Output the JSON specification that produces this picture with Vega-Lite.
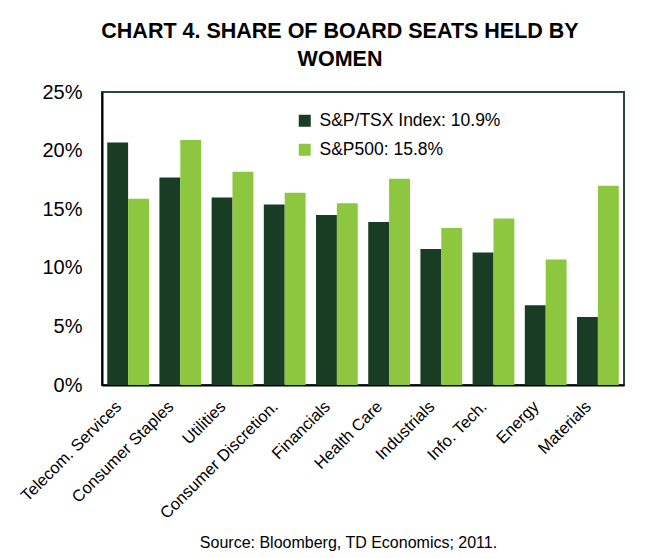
{
  "$schema": "https://vega.github.io/schema/vega-lite/v6.json",
  "width": 522,
  "height": 293,
  "autosize": "none",
  "padding": {"left": 102, "top": 92, "right": 41, "bottom": 173},
  "background": "white",
  "title": {
    "text": ["CHART 4. SHARE OF BOARD SEATS HELD BY", "WOMEN"],
    "font": "Liberation Sans",
    "fontSize": 21.5,
    "fontWeight": "bold",
    "color": "#000000",
    "lineHeight": 28,
    "anchor": "middle",
    "dx": -23,
    "offset": 12
  },
  "config": {
    "view": {"stroke": "#2b4a33", "strokeWidth": 2},
    "font": "Liberation Sans"
  },
  "data": {
    "values": [
      {"sector": "Telecom. Services", "series": "S&P/TSX Index: 10.9%", "value": 20.7},
      {"sector": "Telecom. Services", "series": "S&P500: 15.8%", "value": 15.9},
      {"sector": "Consumer Staples", "series": "S&P/TSX Index: 10.9%", "value": 17.7},
      {"sector": "Consumer Staples", "series": "S&P500: 15.8%", "value": 20.9},
      {"sector": "Utilities", "series": "S&P/TSX Index: 10.9%", "value": 16.0},
      {"sector": "Utilities", "series": "S&P500: 15.8%", "value": 18.2},
      {"sector": "Consumer Discretion.", "series": "S&P/TSX Index: 10.9%", "value": 15.4},
      {"sector": "Consumer Discretion.", "series": "S&P500: 15.8%", "value": 16.4},
      {"sector": "Financials", "series": "S&P/TSX Index: 10.9%", "value": 14.5},
      {"sector": "Financials", "series": "S&P500: 15.8%", "value": 15.5},
      {"sector": "Health Care", "series": "S&P/TSX Index: 10.9%", "value": 13.9},
      {"sector": "Health Care", "series": "S&P500: 15.8%", "value": 17.6},
      {"sector": "Industrials", "series": "S&P/TSX Index: 10.9%", "value": 11.6},
      {"sector": "Industrials", "series": "S&P500: 15.8%", "value": 13.4},
      {"sector": "Info. Tech.", "series": "S&P/TSX Index: 10.9%", "value": 11.3},
      {"sector": "Info. Tech.", "series": "S&P500: 15.8%", "value": 14.2},
      {"sector": "Energy", "series": "S&P/TSX Index: 10.9%", "value": 6.8},
      {"sector": "Energy", "series": "S&P500: 15.8%", "value": 10.7},
      {"sector": "Materials", "series": "S&P/TSX Index: 10.9%", "value": 5.8},
      {"sector": "Materials", "series": "S&P500: 15.8%", "value": 17.0}
    ]
  },
  "mark": {"type": "bar"},
  "encoding": {
    "x": {
      "field": "sector",
      "type": "nominal",
      "sort": null,
      "scale": {"paddingInner": 0.2, "paddingOuter": 0.1},
      "axis": {
        "title": "Source: Bloomberg, TD Economics; 2011.",
        "titleFont": "Liberation Sans",
        "titleFontSize": 16,
        "titleFontWeight": "normal",
        "titleColor": "#000000",
        "titleX": 246,
        "titleY": 162,
        "titleAlign": "center",
        "titleBaseline": "alphabetic",
        "labelAngle": -45,
        "labelFontSize": 16.5,
        "labelColor": "#000000",
        "labelPadding": 13,
        "labelOffset": -15,
        "ticks": false,
        "domainColor": "#000000",
        "domainWidth": 2,
        "labelLimit": 300
      }
    },
    "xOffset": {
      "field": "series",
      "type": "nominal",
      "sort": ["S&P/TSX Index: 10.9%", "S&P500: 15.8%"],
      "scale": {"paddingInner": 0, "paddingOuter": 0}
    },
    "y": {
      "field": "value",
      "type": "quantitative",
      "scale": {"domain": [0, 25], "nice": false},
      "axis": {
        "title": null,
        "values": [0, 5, 10, 15, 20, 25],
        "labelExpr": "datum.value + '%'",
        "labelFontSize": 20,
        "labelColor": "#000000",
        "labelPadding": 20,
        "ticks": false,
        "grid": false,
        "domainColor": "#000000",
        "domainWidth": 2
      }
    },
    "color": {
      "field": "series",
      "type": "nominal",
      "sort": ["S&P/TSX Index: 10.9%", "S&P500: 15.8%"],
      "scale": {"domain": ["S&P/TSX Index: 10.9%", "S&P500: 15.8%"], "range": ["#193d24", "#8dc63f"]},
      "legend": {
        "title": null,
        "orient": "none",
        "legendX": 194,
        "legendY": 20,
        "symbolType": "square",
        "symbolSize": 144,
        "symbolStrokeWidth": 0,
        "symbolOpacity": 1,
        "labelFontSize": 17.5,
        "labelColor": "#000000",
        "labelOffset": 6,
        "labelLimit": 400,
        "rowPadding": 10
      }
    }
  }
}
